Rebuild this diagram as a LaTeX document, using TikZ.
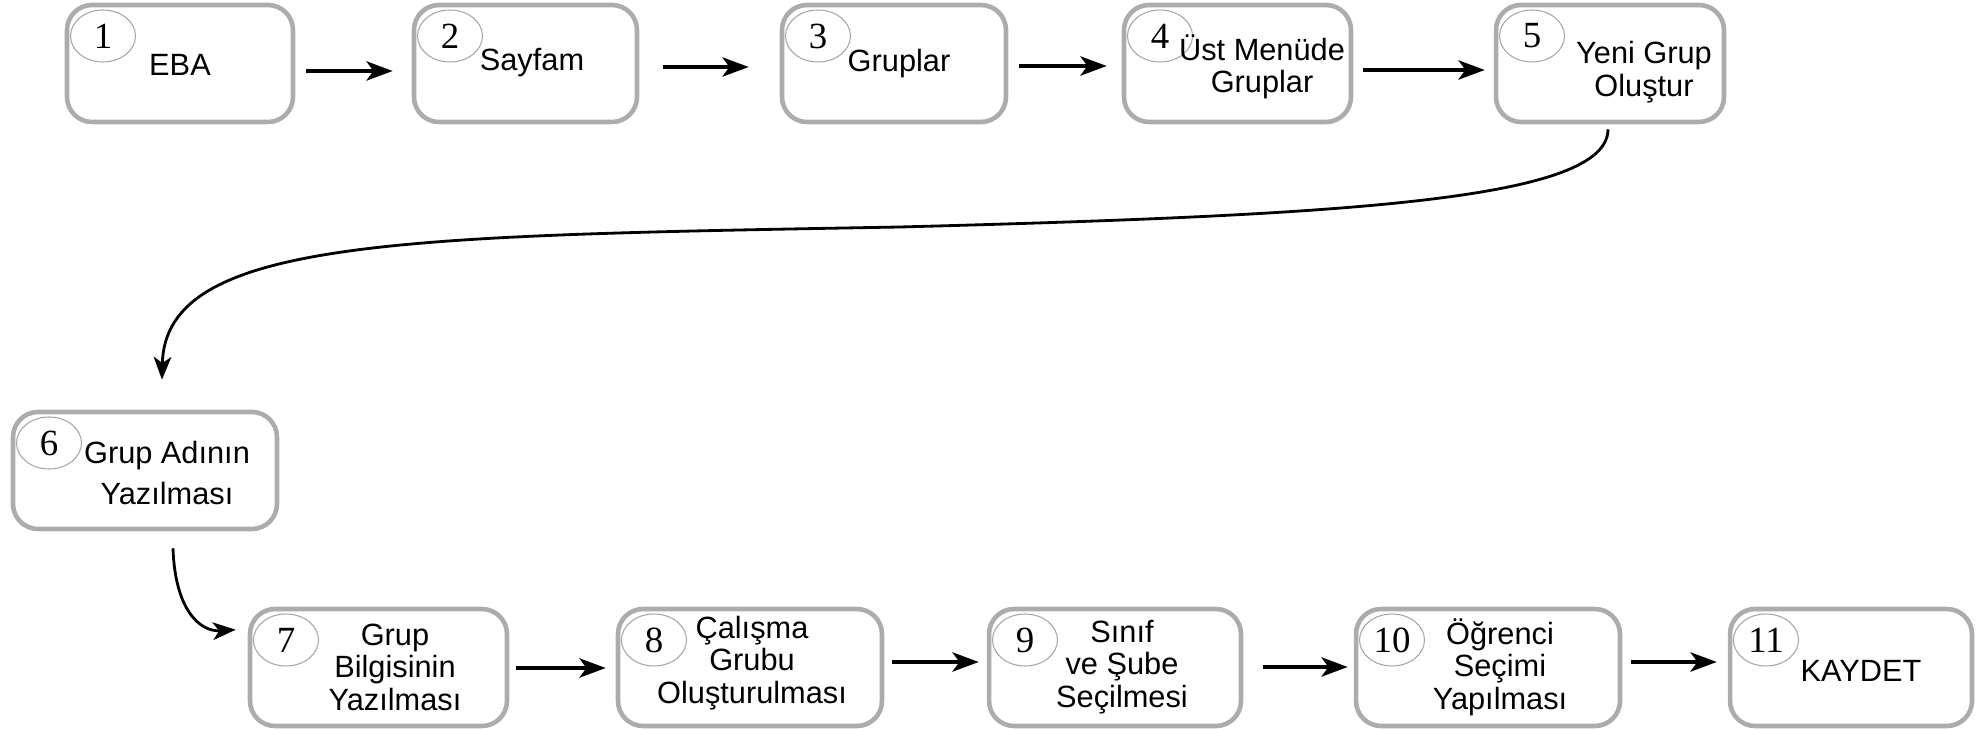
\documentclass[tikz,border=0pt]{standalone}
\usepackage{fontspec}
\setmainfont{Liberation Sans}
\newfontfamily\numfont{Liberation Serif}
\usetikzlibrary{shapes.geometric,arrows.meta,calc}
\begin{document}
\begin{tikzpicture}[x=0.02cm,y=-0.02cm,
  box/.style={draw=gray!65, line width=2.6pt, rounded corners=0.5cm, fill=white, inner sep=0pt, minimum height=2.34cm},
  num/.style={ellipse, draw=gray!70, line width=0.6pt, minimum width=1.3cm, minimum height=1.04cm, inner sep=0pt, font=\numfont\fontsize{21}{22}\selectfont},
  txt/.style={align=center, inner sep=0pt, font=\fontsize{17.5}{18.5}\selectfont},
  arr/.style={line width=2pt, -{Stealth[length=15pt,width=11pt,inset=4pt]}},
  carr/.style={line width=1.6pt, -{Stealth[length=13pt,width=10pt,inset=3.5pt]}}]
\useasboundingbox (0,0) rectangle (1982,729);
% top row
\node[box, minimum width=4.52cm] (b1) at (180,63.5) {};
\node[box, minimum width=4.46cm] (b2) at (525.5,63.5) {};
\node[box, minimum width=4.48cm] (b3) at (894,63.5) {};
\node[box, minimum width=4.54cm] (b4) at (1237.5,63.5) {};
\node[box, minimum width=4.56cm] (b5) at (1610,63.5) {};
% middle
\node[box, minimum width=5.28cm] (b6) at (145,470.5) {};
% bottom row
\node[box, minimum width=5.14cm] (b7) at (378.5,667.5) {};
\node[box, minimum width=5.28cm] (b8) at (750,667.5) {};
\node[box, minimum width=5.04cm] (b9) at (1115,667.5) {};
\node[box, minimum width=5.28cm] (b10) at (1488,667.5) {};
\node[box, minimum width=4.84cm] (b11) at (1851,667.5) {};
% numbers
\node[num] (n1) at (103,36) {1};
\node[num] (n2) at (450,36) {2};
\node[num] (n3) at (818,36) {3};
\node[num] (n4) at (1160,36) {4};
\node[num] (n5) at (1532,36) {5};
\node[num] (n6) at (49,443) {6};
\node[num] (n7) at (286,640) {7};
\node[num] (n8) at (654,640) {8};
\node[num] (n9) at (1025,640) {9};
\node[num] (n10) at (1392,640) {10};
\node[num] (n11) at (1766,640) {11};
% texts
\node[txt] (t1) at (180,65) {EBA};
\node[txt] (t2) at (532,63) {Sayfam};
\node[txt] (t3) at (899,64) {Gruplar};
\node[txt] (t4) at (1262,67) {Üst Menüde\\Gruplar};
\node[txt] (t5) at (1644,72) {Yeni Grup\\Oluştur};
\node[txt, font=\fontsize{17.5}{23}\selectfont] (t6) at (167,473) {Grup Adının\\Yazılması};
\node[txt] (t7) at (395,667) {Grup\\Bilgisinin\\Yazılması};
\node[txt] (t8) at (752,663) {Çalışma\\Grubu\\Oluşturulması};
\node[txt] (t9) at (1122,667) {Sınıf\\ve Şube\\Seçilmesi};
\node[txt] (t10) at (1500,667) {Öğrenci\\Seçimi\\Yapılması};
\node[txt] (t11) at (1861,671) {KAYDET};
% straight arrows
\draw[arr] ($(b1.east)+(11,7.5)$) -- ($(b2.west)+(-19,7.5)$);
\draw[arr] ($(b2.east)+(24,3.5)$) -- ($(b3.west)+(-31,3.5)$);
\draw[arr] ($(b3.east)+(11,2.5)$) -- ($(b4.west)+(-15,2.5)$);
\draw[arr] ($(b4.east)+(10,6.5)$) -- ($(b5.west)+(-9,6.5)$);
\draw[arr] ($(b7.east)+(7,0.5)$) -- ($(b8.west)+(-10,0.5)$);
\draw[arr] ($(b8.east)+(8,-5.5)$) -- ($(b9.west)+(-8,-5.5)$);
\draw[arr] ($(b9.east)+(20,-0.5)$) -- ($(b10.west)+(-6,-0.5)$);
\draw[arr] ($(b10.east)+(9,-5.5)$) -- ($(b11.west)+(-11,-5.5)$);
% curved arrows
\coordinate (m56) at (900,227);
\draw[carr] ($(b5.south)+(-2,5)$) .. controls (1608,200) and (1350,215) .. (m56)
  .. controls (400,236) and (165,238) .. ($(b6.north)+(17,-30)$);
\draw[carr] ($(b6.south)+(28,17)$) .. controls (175,610) and (200,632) .. ($(b7.north west)+(-12,23)$);
\end{tikzpicture}
\end{document}
